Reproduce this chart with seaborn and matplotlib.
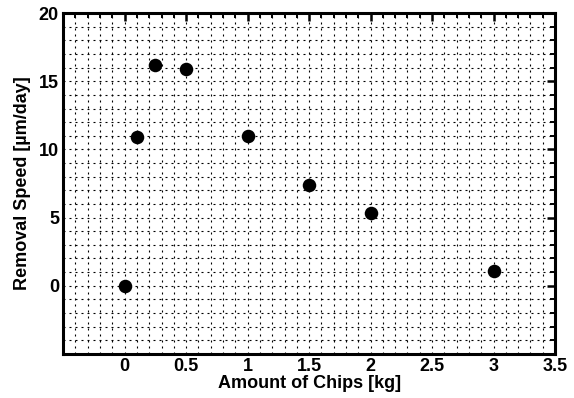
import matplotlib
matplotlib.use("Agg")
import matplotlib.pyplot as plt
import seaborn as sns
import pandas as pd
from matplotlib.ticker import MultipleLocator

chips_kg = [0.0, 0.1, 0.25, 0.5, 1.0, 1.5, 2.0, 3.0]
removal_speed = [0.0, 10.9, 16.2, 15.9, 11.0, 7.4, 5.3, 1.1]
x_ticks = [0, 0.5, 1, 1.5, 2, 2.5, 3, 3.5]
x_tick_labels = ["0", "0.5", "1", "1.5", "2", "2.5", "3", "3.5"]
y_ticks = [0, 5, 10, 15, 20]
y_tick_labels = ["0", "5", "10", "15", "20"]

df = pd.DataFrame({"Amount of Chips [kg]": chips_kg,
                   "Removal Speed [µm/day]": removal_speed})

sns.set_style("white")
plt.rcParams['font.family'] = ['Liberation Sans', 'DejaVu Sans']
plt.rcParams['font.weight'] = 'bold'
plt.rcParams['text.color'] = 'black'
plt.rcParams['axes.labelcolor'] = 'black'
plt.rcParams['xtick.color'] = 'black'
plt.rcParams['ytick.color'] = 'black'

fig = plt.figure(figsize=(5.74, 3.98), dpi=100)
ax = fig.add_axes([0.110, 0.111, 0.857, 0.856])

sns.scatterplot(data=df, x="Amount of Chips [kg]", y="Removal Speed [µm/day]",
                ax=ax, color="black", s=95, edgecolor="black", linewidth=0, zorder=3)

ax.set_xlim(-0.5, 3.5)
ax.set_ylim(-5, 20)
ax.xaxis.set_minor_locator(MultipleLocator(0.1))
ax.yaxis.set_minor_locator(MultipleLocator(1))
ax.set_xticks(x_ticks)
ax.set_xticklabels(x_tick_labels)
ax.set_yticks(y_ticks)
ax.set_yticklabels(y_tick_labels)

ax.grid(True, which="both", color="black", linestyle=(0, (1.8, 3.6)), linewidth=0.8)
ax.set_axisbelow(True)
ax.tick_params(which="major", direction="in", length=6, width=1.8,
               top=True, right=True, labelsize=13, pad=3,
               colors="black", labelcolor="black")
ax.tick_params(which="minor", direction="in", length=3.5, width=1.4,
               top=True, right=True, colors="black")
for lab in ax.get_xticklabels() + ax.get_yticklabels():
    lab.set_fontweight("bold")
for sp in ax.spines.values():
    sp.set_linewidth(2.2)
    sp.set_color("black")

ax.set_xlabel("Amount of Chips [kg]", fontsize=13, fontweight="bold",
              labelpad=0, color="black")
ax.set_ylabel("Removal Speed [\u00b5m/day]", fontsize=13, fontweight="bold",
              labelpad=6, color="black")

fig.savefig("out.png", dpi=100)
